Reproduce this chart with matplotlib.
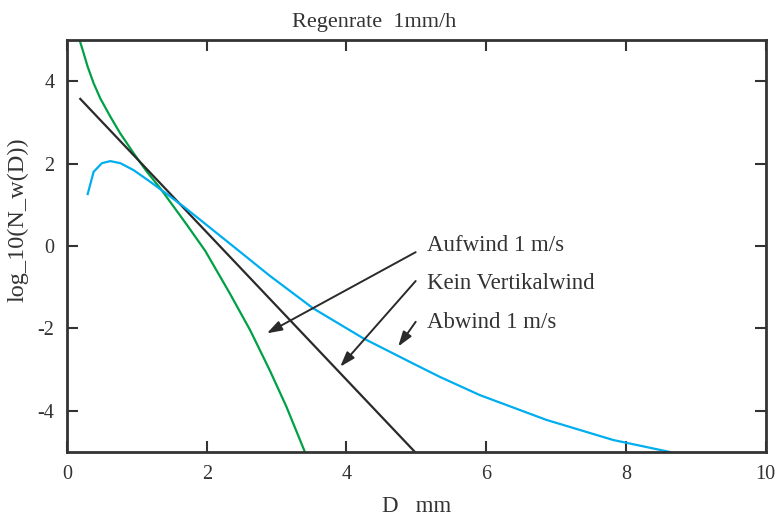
import matplotlib
matplotlib.use("Agg")
import matplotlib.pyplot as plt

plt.rcParams['font.family'] = ['Liberation Serif', 'DejaVu Serif']
plt.rcParams['axes.unicode_minus'] = False

# Data
D_kein = [0.19, 4.98]
logN_kein = [3.57, -5.0]

D_auf = [0.18, 0.238, 0.296, 0.381, 0.477, 0.62, 0.763, 0.954, 1.144, 1.335,
         1.526, 1.717, 1.979, 2.33, 2.62, 2.90, 3.14, 3.405]
logN_auf = [5.0, 4.68, 4.35, 3.95, 3.58, 3.14, 2.73, 2.25, 1.80, 1.40,
            0.955, 0.51, -0.12, -1.15, -2.04, -3.01, -3.90, -5.0]

D_ab = [0.296, 0.381, 0.50, 0.62, 0.763, 0.954, 1.19, 1.43, 1.67, 1.91, 2.41,
        2.90, 3.52, 4.24, 4.95, 5.34, 5.91, 6.86, 7.82, 8.63]
logN_ab = [1.26, 1.80, 2.01, 2.06, 2.01, 1.84, 1.56, 1.26, 0.955, 0.63, -0.05,
           -0.72, -1.51, -2.24, -2.85, -3.18, -3.62, -4.22, -4.71, -5.0]

labels = ["Aufwind 1 m/s", "Kein Vertikalwind", "Abwind 1 m/s"]
label_y = [0.02, -0.90, -1.85]
arrow_from = [(4.99, -0.15), (4.99, -0.85), (4.99, -1.84)]
arrow_to = [(2.86, -2.12), (3.91, -2.93), (4.74, -2.44)]

xticks = [0, 2, 4, 6, 8, 10]
yticks = [-4, -2, 0, 2, 4]

txt = '#333333'

fig = plt.figure(figsize=(7.79, 5.17), dpi=100)
ax = fig.add_axes([0.086, 0.1257, 0.897, 0.797])

ax.plot(D_auf, logN_auf, color='#00a046', lw=1.6)
ax.plot(D_kein, logN_kein, color='#2a2a2a', lw=1.6)
ax.plot(D_ab, logN_ab, color='#00aeef', lw=1.6)

for (x0, y0), (x1, y1) in zip(arrow_from, arrow_to):
    ax.annotate('', xy=(x1, y1), xytext=(x0, y0),
                arrowprops=dict(arrowstyle='-|>,head_length=0.9,head_width=0.3',
                                color='#2a2a2a', lw=1.4, shrinkA=0, shrinkB=0))
for lab, y in zip(labels, label_y):
    ax.text(5.15, y, lab, fontsize=16.5, color=txt, va='center', ha='left')

ax.set_xlim(0, 10)
ax.set_ylim(-5, 5)
ax.set_xticks(xticks)
ax.set_yticks(yticks)
ax.set_xticklabels([str(t) for t in xticks])
ax.set_yticklabels([str(t) for t in yticks])
ax.tick_params(direction='in', length=8, width=1.5, colors='#333333',
               labelsize=14.5, labelcolor=txt, top=True, right=True, pad=9)
for s in ax.spines.values():
    s.set_linewidth(2)
    s.set_color('#333333')

fig.text(374 / 779, 1 - 22 / 517, 'Regenrate  1mm/h', fontsize=16, color=txt,
         ha='center', va='center')
ax.set_xlabel('D   mm', fontsize=16.5, color=txt, labelpad=9)
ax.set_ylabel('log_10(N_w(D))', fontsize=17.5, color=txt, va='center')
ax.yaxis.set_label_coords(-0.070, 0.563)

fig.savefig('out.png', dpi=100)
